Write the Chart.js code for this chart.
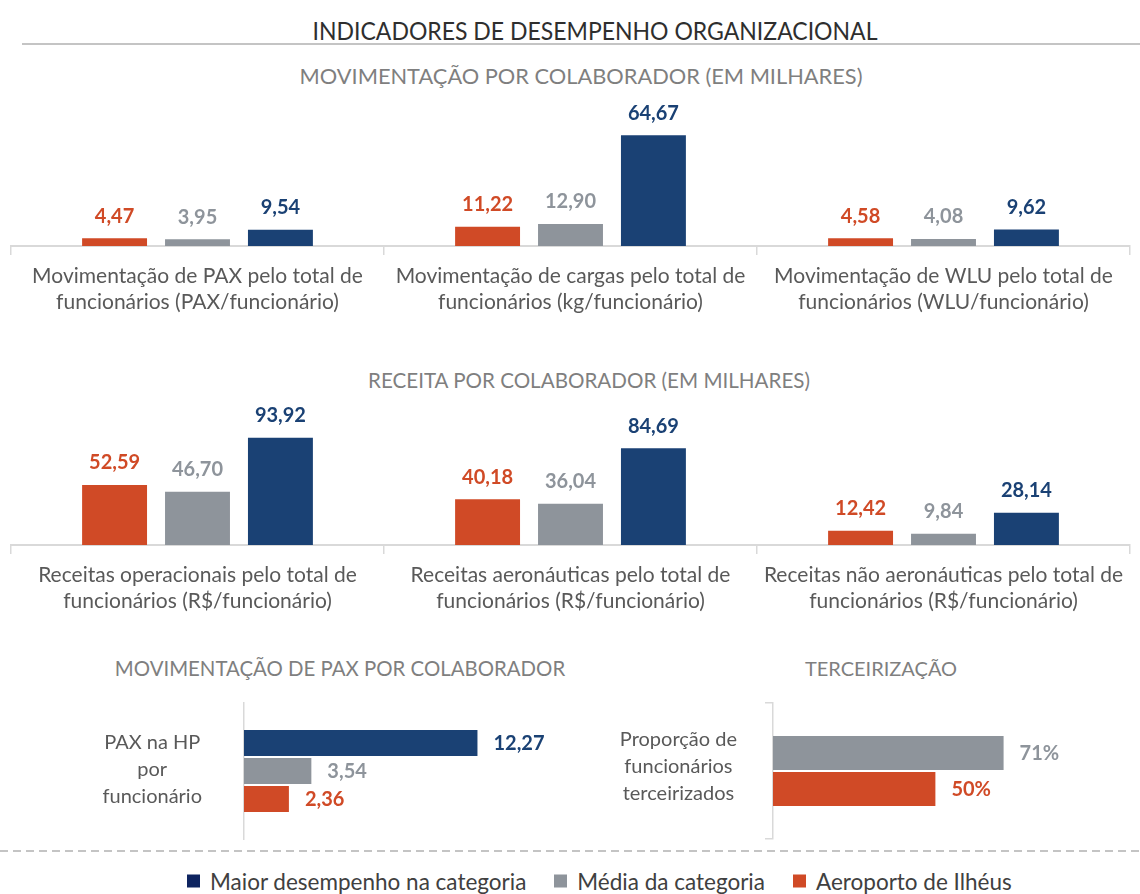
<!DOCTYPE html>
<html>
<head>
<meta charset="utf-8">
<script src="https://cdn.jsdelivr.net/npm/chart.js@4/dist/chart.umd.min.js"></script>
<style>
  html, body { margin:0; padding:0; background:#fff; }
  body { width:1140px; height:894px; position:relative; overflow:hidden; font-family: Lato, "Open Sans", sans-serif; }
  .t { position:absolute; transform:translate(-50%,-50%); white-space:nowrap; line-height:1; }
  canvas { position:absolute; }
  .box { position:absolute; }
  #legend { position:absolute; top:881px; left:187px; transform:translateY(-50%); display:flex; align-items:center; font-size:22.5px; color:#404040; white-space:nowrap; }
  #legend .it { display:flex; align-items:center; margin-right:28px; }
  #legend .sq { width:13px; height:13px; margin-right:10px; }
</style>
</head>
<body>
<div class="t" id="title" style="left:595px; top:30px; font-size:25px; color:#2e2e2e; transform:translate(-50%,-50%) scaleX(0.92);">INDICADORES DE DESEMPENHO ORGANIZACIONAL</div>
<div style="position:absolute; left:22px; top:43px; width:1118px; height:2px; background:#c4c4c4;"></div>
<div class="t" style="left:581px; top:76px; font-size:21.8px; color:#7f7f7f;">MOVIMENTAÇÃO POR COLABORADOR (EM MILHARES)</div>
<div class="t" style="left:589px; top:380px; font-size:20.6px; color:#7f7f7f;">RECEITA POR COLABORADOR (EM MILHARES)</div>
<div class="t" style="left:340px; top:668px; font-size:20.4px; color:#7f7f7f;">MOVIMENTAÇÃO DE PAX POR COLABORADOR</div>
<div class="t" style="left:881px; top:668px; font-size:20px; color:#7f7f7f;">TERCEIRIZAÇÃO</div>

<div class="box" style="left:0; top:90px; width:1140px; height:240px;"><canvas id="c1"></canvas></div>
<div class="box" style="left:0; top:400px; width:1140px; height:229px;"><canvas id="c2"></canvas></div>
<div class="box" style="left:0; top:701px; width:596px; height:140px;"><canvas id="c3"></canvas></div>
<div class="box" style="left:560px; top:701px; width:580px; height:140px;"><canvas id="c4"></canvas></div>

<div style="position:absolute; left:0; top:850px; width:1140px; height:2px; background:repeating-linear-gradient(to right, #c4c4c4 0 8px, transparent 8px 13px);"></div>
<div id="legend"></div>

<script>
// ---------- DATA ----------
const movCategories = [
  ["Movimentação de PAX pelo total de", "funcionários (PAX/funcionário)"],
  ["Movimentação de cargas pelo total de", "funcionários (kg/funcionário)"],
  ["Movimentação de WLU pelo total de", "funcionários (WLU/funcionário)"]
];
const movIlheus = [4.47, 11.22, 4.58];
const movMedia  = [3.95, 12.90, 4.08];
const movMaior  = [9.54, 64.67, 9.62];

const recCategories = [
  ["Receitas operacionais pelo total de", "funcionários (R$/funcionário)"],
  ["Receitas aeronáuticas pelo total de", "funcionários (R$/funcionário)"],
  ["Receitas não aeronáuticas pelo total de", "funcionários (R$/funcionário)"]
];
const recIlheus = [52.59, 40.18, 12.42];
const recMedia  = [46.70, 36.04, 9.84];
const recMaior  = [93.92, 84.69, 28.14];

const paxCategories = [["PAX na HP", "por", "funcionário"]];
const paxMaior  = [12.27];
const paxMedia  = [3.54];
const paxIlheus = [2.36];

const tercCategories = [["Proporção de", "funcionários", "terceirizados"]];
const tercMedia  = [71];
const tercIlheus = [50];

const seriesNames = ["Maior desempenho na categoria", "Média da categoria", "Aeroporto de Ilhéus"];

// ---------- STYLE ----------
const COL = { maior:'#1A4174', media:'#8E949B', ilheus:'#D04A26', legendMaior:'#0E2460' };
const FONT = 'Lato, "Open Sans", sans-serif';
Chart.defaults.font.family = FONT;
Chart.defaults.animation = false;

const fmtDec = v => v.toFixed(2).replace('.', ',');
const fmtPct = v => Math.round(v) + '%';

const valueLabels = {
  id: 'valueLabels',
  afterDatasetsDraw(chart, args, opts) {
    const ctx = chart.ctx;
    const horiz = chart.options.indexAxis === 'y';
    chart.data.datasets.forEach((ds, i) => {
      const meta = chart.getDatasetMeta(i);
      meta.data.forEach((bar, j) => {
        const txt = opts.format(ds.data[j]);
        ctx.save();
        ctx.font = 'bold 20px ' + FONT;
        ctx.fillStyle = ds.backgroundColor;
        ctx.textBaseline = 'middle';
        if (horiz) { ctx.textAlign = 'left'; ctx.fillText(txt, bar.x + 16, bar.y + 1); }
        else { ctx.textAlign = 'center'; ctx.fillText(txt, bar.x, bar.y - 22); }
        ctx.restore();
      });
    });
  }
};

function colChart(id, labels, ilheus, media, maior, yMax) {
  return new Chart(document.getElementById(id), {
    type: 'bar',
    data: {
      labels: labels,
      datasets: [
        { label: seriesNames[2], data: ilheus, backgroundColor: COL.ilheus },
        { label: seriesNames[1], data: media,  backgroundColor: COL.media },
        { label: seriesNames[0], data: maior,  backgroundColor: COL.maior }
      ]
    },
    options: {
      responsive: true, maintainAspectRatio: false,
      categoryPercentage: 0.667, barPercentage: 0.783,
      layout: { padding: { left: 11, right: 10, top: 0, bottom: 0 } },
      plugins: { legend: { display: false }, tooltip: { enabled: false }, valueLabels: { format: fmtDec } },
      scales: {
        x: {
          grid: { display: true, drawOnChartArea: false, drawTicks: true, tickLength: 9, color: '#d9d9d9', lineWidth: 1.5, offset: true },
          border: { display: true, color: '#d9d9d9', width: 2 },
          ticks: { color: '#595959', font: { size: 21, lineHeight: 1.24 }, padding: 8, maxRotation: 0, autoSkip: false },
          afterFit: s => { s.height = 84; s.paddingLeft = 0; s.paddingRight = 0; }
        },
        y: { display: false, min: 0, max: yMax }
      }
    },
    plugins: [valueLabels]
  });
}

colChart('c1', movCategories, movIlheus, movMedia, movMaior, 91);
colChart('c2', recCategories, recIlheus, recMedia, recMaior, 127);

new Chart(document.getElementById('c3'), {
  type: 'bar',
  data: {
    labels: paxCategories,
    datasets: [
      { label: seriesNames[0], data: paxMaior,  backgroundColor: COL.maior },
      { label: seriesNames[1], data: paxMedia,  backgroundColor: COL.media },
      { label: seriesNames[2], data: paxIlheus, backgroundColor: COL.ilheus }
    ]
  },
  options: {
    indexAxis: 'y',
    responsive: true, maintainAspectRatio: false,
    categoryPercentage: 0.6176, barPercentage: 0.93,
    layout: { padding: { top: 2, bottom: 2, left: 0, right: 0 } },
    plugins: { legend: { display: false }, tooltip: { enabled: false }, valueLabels: { format: fmtDec } },
    scales: {
      y: {
        grid: { display: false },
        border: { display: true, color: '#d9d9d9', width: 1.5 },
        ticks: { crossAlign: 'center', padding: 34, labelOffset: -1, color: '#595959', font: { size: 20, lineHeight: 1.35 } },
        afterFit: s => { s.width = 244; s.paddingTop = 0; s.paddingBottom = 0; }
      },
      x: { display: false, min: 0, max: 18.5 }
    }
  },
  plugins: [valueLabels]
});

new Chart(document.getElementById('c4'), {
  type: 'bar',
  data: {
    labels: tercCategories,
    datasets: [
      { label: seriesNames[1], data: tercMedia,  backgroundColor: COL.media },
      { label: seriesNames[2], data: tercIlheus, backgroundColor: COL.ilheus }
    ]
  },
  options: {
    indexAxis: 'y',
    responsive: true, maintainAspectRatio: false,
    categoryPercentage: 0.53, barPercentage: 0.944,
    layout: { padding: { top: 2, bottom: 2, left: 0, right: 0 } },
    plugins: { legend: { display: false }, tooltip: { enabled: false }, valueLabels: { format: fmtPct } },
    scales: {
      y: {
        grid: { display: true, drawOnChartArea: false, drawTicks: true, tickLength: 8, color: '#d9d9d9', lineWidth: 1.5, offset: true },
        border: { display: true, color: '#d9d9d9', width: 1.5 },
        ticks: { crossAlign: 'center', padding: 28, labelOffset: -4, color: '#595959', font: { size: 20, lineHeight: 1.35 } },
        afterFit: s => { s.width = 213; s.paddingTop = 0; s.paddingBottom = 0; }
      },
      x: { display: false, min: 0, max: 113 }
    }
  },
  plugins: [valueLabels]
});

// legend
const legendColors = [COL.legendMaior, COL.media, COL.ilheus];
const lg = document.getElementById('legend');
seriesNames.forEach((n, i) => {
  const it = document.createElement('div'); it.className = 'it';
  const sq = document.createElement('div'); sq.className = 'sq'; sq.style.background = legendColors[i];
  const tx = document.createElement('span'); tx.textContent = n;
  it.appendChild(sq); it.appendChild(tx); lg.appendChild(it);
});
</script>
</body>
</html>
